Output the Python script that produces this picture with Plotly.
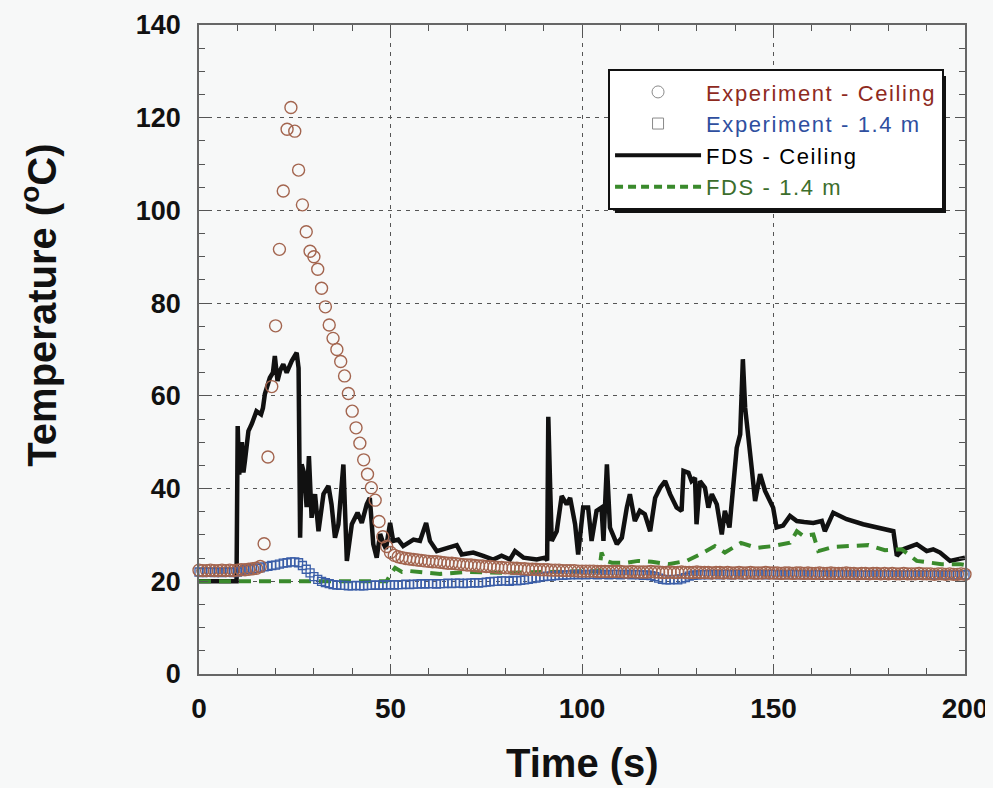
import plotly.graph_objects as go

# experiment, sampled every 1 s
time_exp = list(range(0, 201))
exp_ceiling = [
    22.4, 22.3, 22.3, 22.4, 22.3, 22.3, 22.4, 22.3, 22.4, 22.3,
    22.4, 22.5, 22.5, 22.6, 22.7, 22.8, 23.2, 28.1, 46.8, 62.0,
    75.1, 91.6, 104.2, 117.5, 122.2, 117.1, 108.7, 101.2, 95.4, 91.2,
    90.0, 87.3, 83.2, 79.2, 75.3, 72.4, 70.0, 67.4, 64.3, 60.5,
    56.7, 53.1, 49.8, 46.2, 43.1, 40.2, 37.5, 32.9, 29.6, 27.5,
    26.2, 25.6, 25.3, 25.1, 24.9, 24.8, 24.7, 24.6, 24.5, 24.4,
    24.3, 24.2, 24.2, 24.1, 24.0, 23.9, 23.9, 23.8, 23.7, 23.6,
    23.5, 23.5, 23.4, 23.3, 23.3, 23.2, 23.2, 23.1, 23.0, 23.0,
    22.9, 22.9, 22.8, 22.8, 22.7, 22.7, 22.6, 22.6, 22.6, 22.5,
    22.5, 22.5, 22.4, 22.4, 22.4, 22.3, 22.3, 22.3, 22.3, 22.2,
    22.2, 22.2, 22.2, 22.2, 22.1, 22.1, 22.1, 22.1, 22.1, 22.1,
    22.1, 22.0, 22.0, 22.1, 22.0, 22.0, 22.0, 22.0, 22.1, 22.0,
    22.0, 21.9, 21.9, 22.0, 21.9, 21.9, 22.0, 21.9, 21.9, 21.9,
    22.0, 21.9, 21.9, 21.9, 21.8, 21.9, 21.9, 21.8, 21.9, 21.8,
    21.8, 21.9, 21.8, 21.8, 21.9, 21.8, 21.8, 21.8, 21.9, 21.8,
    21.8, 21.8, 21.7, 21.8, 21.8, 21.7, 21.8, 21.8, 21.7, 21.8,
    21.7, 21.7, 21.8, 21.7, 21.7, 21.8, 21.7, 21.7, 21.7, 21.8,
    21.7, 21.7, 21.6, 21.7, 21.7, 21.6, 21.7, 21.7, 21.6, 21.7,
    21.6, 21.7, 21.6, 21.6, 21.7, 21.6, 21.6, 21.6, 21.7, 21.6,
    21.6, 21.6, 21.5, 21.6, 21.6, 21.5, 21.6, 21.5, 21.5, 21.6, 21.5,
]
exp_14m = [
    22.0, 21.9, 22.0, 22.0, 21.9, 22.0, 21.9, 22.0, 22.0, 21.9,
    22.0, 22.3, 22.5, 22.6, 22.7, 22.8, 22.9, 23.1, 23.2, 23.4,
    23.5, 23.7, 23.9, 24.0, 24.2, 24.2, 24.0, 23.4, 22.6, 21.8,
    21.0, 20.4, 20.0, 19.7, 19.5, 19.3, 19.2, 19.1, 19.1, 19.0,
    19.0, 19.1, 19.0, 19.0, 19.1, 19.1, 19.2, 19.1, 19.2, 19.2,
    19.3, 19.2, 19.3, 19.3, 19.4, 19.3, 19.4, 19.4, 19.5, 19.4,
    19.5, 19.5, 19.4, 19.5, 19.5, 19.6, 19.5, 19.6, 19.6, 19.5,
    19.6, 19.6, 19.7, 19.6, 19.7, 19.8, 19.9, 20.0, 20.0, 20.1,
    20.1, 20.0, 20.2, 20.1, 20.2, 20.3, 20.4, 20.6, 20.7, 20.9,
    21.0, 21.1, 21.1, 21.2, 21.3, 21.3, 21.4, 21.4, 21.5, 21.4,
    21.5, 21.4, 21.5, 21.5, 21.4, 21.5, 21.5, 21.4, 21.5, 21.5,
    21.4, 21.5, 21.5, 21.4, 21.5, 21.4, 21.3, 21.4, 21.2, 21.0,
    20.7, 20.4, 20.3, 20.3, 20.4, 20.3, 20.5, 20.8, 21.1, 21.3,
    21.4, 21.4, 21.5, 21.4, 21.5, 21.5, 21.4, 21.5, 21.5, 21.4,
    21.5, 21.5, 21.4, 21.5, 21.5, 21.4, 21.5, 21.5, 21.4, 21.5,
    21.5, 21.4, 21.5, 21.4, 21.5, 21.5, 21.4, 21.5, 21.4, 21.5,
    21.4, 21.5, 21.4, 21.3, 21.4, 21.5, 21.4, 21.4, 21.5, 21.4,
    21.4, 21.5, 21.4, 21.4, 21.3, 21.4, 21.4, 21.5, 21.4, 21.4,
    21.4, 21.3, 21.4, 21.4, 21.3, 21.4, 21.4, 21.3, 21.4, 21.4,
    21.3, 21.4, 21.4, 21.3, 21.4, 21.3, 21.4, 21.4, 21.3, 21.4, 21.4,
]

# FDS ceiling thermocouple
fds_t = [
    0, 9.8, 10.1, 10.5, 11.2, 11.6, 12.0, 12.9, 13.8, 15.0,
    16.2, 16.7, 17.2, 18.5, 19.3, 19.8, 20.5, 21.2, 22.0, 22.9,
    24.2, 25.5, 26.0, 26.4, 26.8, 27.5, 28.1, 28.7, 29.4, 30.3,
    31.2, 32.5, 33.8, 34.6, 35.5, 36.4, 37.7, 38.6, 39.9, 41.4,
    42.5, 43.8, 44.6, 45.5, 46.4, 47.3, 48.0, 48.8, 49.9, 50.7,
    52.0, 53.3, 56.0, 57.7, 59.3, 60.3, 62.1, 64.7, 67.3, 68.6,
    71.6, 74.2, 76.8, 79.0, 81.2, 82.5, 84.7, 88.2, 90.3, 90.9,
    91.2, 91.7, 92.1, 93.4, 94.7, 96.0, 96.9, 98.2, 99.0, 100.3,
    101.6, 102.5, 103.8, 105.1, 105.6, 106.5, 107.3, 109.1, 110.4, 111.7,
    112.5, 113.8, 115.1, 116.4, 117.8, 119.1, 120.4, 121.7, 123.0, 124.7,
    126.0, 126.5, 127.8, 128.6, 129.5, 129.9, 130.8, 132.1, 133.0, 133.9,
    135.2, 136.5, 137.3, 138.5, 139.5, 140.4, 141.3, 142.0, 142.6, 143.4,
    144.3, 145.2, 146.5, 147.8, 149.9, 150.8, 152.5, 154.3, 156.1, 158.0,
    160.4, 162.6, 163.4, 165.6, 169.1, 173.4, 177.8, 181.3, 182.2, 183.9,
    187.4, 190.0, 191.7, 193.5, 196.1, 197.8, 200.0,
]
fds_ceiling = [
    20.0, 20.0, 53.5, 43.0, 50.0, 43.5, 46.0, 52.4, 54.0, 56.7,
    56.0, 57.4, 60.4, 63.9, 65.0, 68.6, 63.2, 65.5, 66.8, 65.0,
    67.5, 69.3, 66.0, 29.4, 45.2, 43.1, 36.0, 47.0, 33.7, 38.8,
    30.8, 38.8, 40.6, 36.6, 29.4, 32.3, 45.2, 24.4, 32.3, 34.8,
    32.6, 36.6, 38.0, 28.0, 25.1, 30.2, 28.5, 27.0, 32.6, 28.7,
    29.0, 27.6, 29.0, 28.7, 32.6, 28.7, 26.5, 27.2, 27.8, 25.8,
    26.2, 25.5, 24.7, 25.5, 24.7, 26.5, 25.1, 24.7, 25.1, 24.5,
    55.5, 40.0, 28.7, 30.8, 38.4, 36.6, 38.0, 32.3, 25.8, 35.9,
    35.9, 28.7, 35.2, 35.9, 28.7, 45.2, 31.6, 28.0, 29.4, 35.9,
    38.8, 33.0, 35.2, 34.5, 30.8, 38.0, 40.2, 41.6, 38.8, 35.9,
    35.2, 43.8, 43.4, 41.6, 42.3, 32.3, 41.6, 40.2, 35.9, 38.8,
    36.6, 30.1, 35.2, 31.6, 39.5, 48.8, 51.7, 67.9, 57.4, 50.3,
    44.5, 37.3, 43.1, 39.5, 35.9, 31.6, 32.0, 34.1, 33.0, 32.8,
    32.6, 33.0, 30.8, 34.8, 33.4, 32.3, 31.6, 30.8, 25.5, 26.9,
    28.0, 26.5, 26.9, 26.2, 24.4, 24.7, 25.1,
]

# FDS 1.4 m thermocouple
fds14_t = [
    0, 49.0, 50.0, 51.2, 53.0, 55.1, 60.0, 63.0, 70.0, 80.0,
    90.0, 100.0, 104.5, 105.1, 106.0, 107.8, 111.7, 114.7, 118.2, 122.5,
    127.3, 130.8, 134.7, 137.3, 141.5, 145.6, 149.9, 154.3, 156.1, 157.8,
    160.4, 161.7, 165.6, 170.0, 174.8, 179.1, 183.5, 187.4, 190.9, 193.9,
    198.7, 200.0,
]
fds_14m = [
    20.0, 20.0, 21.5, 22.9, 22.0, 22.2, 21.8, 21.6, 22.0, 21.8,
    22.0, 22.0, 22.2, 26.2, 24.5, 24.0, 24.0, 24.4, 24.2, 23.7,
    24.4, 25.8, 27.6, 26.2, 28.3, 27.2, 27.6, 28.3, 30.8, 29.8,
    30.1, 26.5, 27.4, 27.6, 27.8, 26.7, 26.9, 24.4, 24.0, 23.7,
    23.7, 23.5,
]

ls = 'letter-spacing:1.6px;'
names = [
    '<span style="color:#8e2a1e;' + ls + '">Experiment - Ceiling</span>',
    '<span style="color:#2f4f9f;' + ls + '">Experiment - 1.4 m</span>',
    '<span style="color:#000000;' + ls + '">FDS - Ceiling</span>',
    '<span style="color:#3c6e2c;' + ls + '">FDS - 1.4 m</span>',
]

bg = '#f7f8f8'
fig = go.Figure()

fig.add_trace(go.Scatter(x=fds_t, y=fds_ceiling, mode='lines', showlegend=False,
                         line=dict(color='#111111', width=4.5)))
fig.add_trace(go.Scatter(x=fds14_t, y=fds_14m, mode='lines', showlegend=False,
                         line=dict(color='#3a8a2c', width=4, dash='12px,8px')))
fig.add_trace(go.Scatter(x=time_exp, y=exp_14m, mode='markers', showlegend=False,
                         cliponaxis=False,
                         marker=dict(symbol='square-open', size=8, color='#3b5ea8',
                                     line=dict(width=1.3))))
fig.add_trace(go.Scatter(x=time_exp, y=exp_ceiling, mode='markers', showlegend=False,
                         cliponaxis=False,
                         marker=dict(symbol='circle-open', size=12, color='#a3654f',
                                     line=dict(width=1.4))))

# legend entries (gray symbols as in the original key)
fig.add_trace(go.Scatter(x=[None], y=[None], mode='markers', name=names[0],
                         marker=dict(symbol='circle-open', size=12, color='#8a8a8a')))
fig.add_trace(go.Scatter(x=[None], y=[None], mode='markers', name=names[1],
                         marker=dict(symbol='square-open', size=11, color='#8a8a8a')))
fig.add_trace(go.Scatter(x=[None], y=[None], mode='lines', name=names[2],
                         line=dict(color='#111111', width=4)))
fig.add_trace(go.Scatter(x=[None], y=[None], mode='lines', name=names[3],
                         line=dict(color='#3a8a2c', width=4, dash='8px,5px')))

axis_common = dict(
    showgrid=True, gridcolor='#555555', gridwidth=1, griddash='4px,5px',
    showline=True, linecolor='#666666', linewidth=1.5, mirror='allticks',
    ticks='inside', ticklen=9, tickcolor='#555555', zeroline=False,
    automargin=False,
)

fig.update_xaxes(range=[0, 200], tickvals=[0, 50, 100, 150, 200],
                 minor=dict(dtick=10, ticks='inside', ticklen=6, tickcolor='#555555', showgrid=False),
                 tickfont=dict(family='Liberation Sans Narrow, Liberation Sans, Arial', size=28,
                               color='#111111', weight='bold'),
                 ticklabelstandoff=9, **axis_common)
fig.update_yaxes(range=[0, 140], tickvals=[0, 20, 40, 60, 80, 100, 120, 140],
                 minor=dict(dtick=5, ticks='inside', ticklen=6, tickcolor='#555555', showgrid=False),
                 tickfont=dict(family='Liberation Sans, Arial', size=27, color='#111111', weight='bold'),
                 ticklabelstandoff=11, **axis_common)

fig.add_annotation(text='Temperature (<sup>o</sup>C)', textangle=-90,
                   xref='paper', yref='paper', x=-0.209, y=0.569,
                   xanchor='center', yanchor='middle', showarrow=False,
                   font=dict(family='Liberation Sans, Arial', size=40, color='#111111', weight='bold'))
fig.add_annotation(text='Time (s)', xref='paper', yref='paper', x=0.5, y=-0.137,
                   xanchor='center', yanchor='middle', showarrow=False,
                   font=dict(family='Liberation Sans, Arial', size=40, color='#111111', weight='bold'))

# drop shadow behind the key
fig.add_shape(type='rect', xref='paper', yref='paper',
              x0=0.543, x1=0.9752, y0=0.7103, y1=0.9214,
              fillcolor='#111111', line=dict(width=0), layer='above')

# the page keeps an 8px body margin, so the figure is 8px smaller than the window
fig.update_layout(
    width=985, height=780,
    margin=dict(l=191, r=28, t=17, b=114),
    paper_bgcolor=bg, plot_bgcolor=bg,
    showlegend=True,
    legend=dict(x=0.534, y=0.932, xanchor='left', yanchor='top',
                bgcolor='#ffffff', bordercolor='#111111', borderwidth=2,
                itemwidth=86, tracegroupgap=0,
                font=dict(family='Liberation Sans, Arial', size=22, color='#111111')),
)

fig.write_html("out.html", post_script="document.body.style.background='" + bg + "';")
